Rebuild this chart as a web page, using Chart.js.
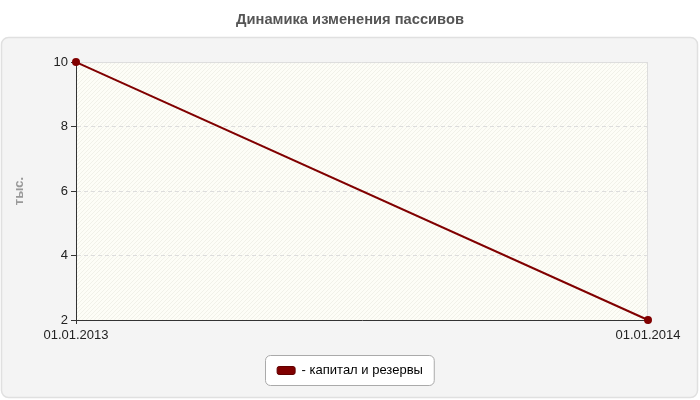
<!DOCTYPE html>
<html>
<head>
<meta charset="utf-8">
<script src="https://cdn.jsdelivr.net/npm/chart.js@4"></script>
<style>
  html, body { margin: 0; padding: 0; background: #fff; }
  #wrap { width: 700px; height: 400px; }
</style>
</head>
<body>
<div id="wrap"><canvas id="chart" width="700" height="400"></canvas></div>
<script>
// Данные графика
const dates = ['01.01.2013', '01.01.2014'];
const capitalValues = [10, 2];
const seriesName = 'капитал и резервы';
const yTicks = [2, 4, 6, 8, 10];

const fontFamily = '"Liberation Sans", Arial, sans-serif';

// Фон: панель, заштрихованная область графика, рамка легенды
const backgroundPlugin = {
  id: 'background',
  beforeDraw(chart) {
    const ctx = chart.ctx;
    const a = chart.chartArea;
    ctx.save();
    // панель
    ctx.beginPath();
    ctx.roundRect(1.5, 37.5, 696, 360, 7);
    ctx.fillStyle = '#f4f4f4';
    ctx.fill();
    ctx.strokeStyle = '#e0e0e0';
    ctx.lineWidth = 1.5;
    ctx.stroke();
    // область графика
    ctx.fillStyle = '#fdfdf7';
    ctx.fillRect(a.left, a.top, a.right - a.left, a.bottom - a.top);
    ctx.beginPath();
    ctx.rect(a.left, a.top, a.right - a.left, a.bottom - a.top);
    ctx.clip();
    ctx.strokeStyle = '#f1f1e9';
    ctx.lineWidth = 1;
    const h = a.bottom - a.top;
    for (let x = a.left - h; x < a.right; x += 4) {
      ctx.beginPath();
      ctx.moveTo(x, a.bottom);
      ctx.lineTo(x + h, a.top);
      ctx.stroke();
    }
    ctx.restore();

    // рамка легенды
    const boxes = chart.legend && chart.legend.legendHitBoxes;
    if (boxes && boxes.length) {
      const b = boxes[0];
      const cy = Math.round(b.top + b.height / 2);
      ctx.save();
      ctx.beginPath();
      ctx.roundRect(Math.round(b.left) - 11.5, cy - 15.5, b.width + 23, 30, 5);
      ctx.fillStyle = '#ffffff';
      ctx.fill();
      ctx.strokeStyle = '#aaaaaa';
      ctx.lineWidth = 1;
      ctx.stroke();
      ctx.restore();
    }
  },
  beforeDatasetsDraw(chart) {
    const ctx = chart.ctx;
    const a = chart.chartArea;
    ctx.save();
    ctx.strokeStyle = '#dddddd';
    ctx.lineWidth = 1;
    ctx.beginPath();
    ctx.moveTo(a.left, a.top + 0.5);
    ctx.lineTo(a.right - 0.5, a.top + 0.5);
    ctx.lineTo(a.right - 0.5, a.bottom);
    ctx.stroke();
    ctx.restore();
  }
};

new Chart(document.getElementById('chart'), {
  type: 'line',
  data: {
    labels: dates,
    datasets: [{
      label: seriesName,
      data: capitalValues,
      borderColor: '#800000',
      backgroundColor: '#800000',
      borderWidth: 2,
      pointRadius: 3,
      pointBackgroundColor: '#800000',
      pointBorderColor: '#800000',
      tension: 0,
      clip: false
    }]
  },
  options: {
    responsive: false,
    animation: false,
    devicePixelRatio: 1,
    layout: { padding: { left: 0, right: 0, top: 0, bottom: 13 } },
    plugins: {
      title: {
        display: true,
        text: 'Динамика изменения пассивов',
        color: '#555555',
        font: { family: fontFamily, size: 14.7, weight: 'bold' },
        padding: { top: 11.2, bottom: 33.2 }
      },
      legend: {
        position: 'bottom',
        labels: {
          color: '#333333',
          font: { family: fontFamily, size: 13 },
          boxWidth: 18,
          boxHeight: 8,
          useBorderRadius: true,
          borderRadius: 2,
          padding: 8,
          generateLabels(chart) {
            return chart.data.datasets.map((ds, i) => ({
              text: '- ' + ds.label,
              fillStyle: ds.backgroundColor,
              strokeStyle: '#600000',
              lineWidth: 1,
              borderRadius: 2,
              datasetIndex: i
            }));
          }
        }
      },
      tooltip: { enabled: false }
    },
    scales: {
      x: {
        offset: false,
        grid: {
          drawOnChartArea: false,
          drawTicks: true,
          tickLength: 4,
          tickColor: '#333333'
        },
        border: { display: true, color: '#333333', width: 1 },
        ticks: {
          color: '#222222',
          font: { family: fontFamily, size: 13 },
          padding: 4,
          maxRotation: 0,
          autoSkip: false
        },
        afterFit(scale) { scale.height = 36; }
      },
      y: {
        min: 2,
        max: 10,
        afterBuildTicks(scale) { scale.ticks = yTicks.map(v => ({ value: v })); },
        title: {
          display: true,
          text: 'тыс.',
          color: '#999999',
          font: { family: fontFamily, size: 13, weight: 'bold' },
          padding: { top: 12, bottom: 0 }
        },
        grid: {
          color: '#dddddd',
          tickBorderDash: [],
          tickColor: '#333333',
          tickLength: 5
        },
        border: { display: true, color: '#333333', width: 1, dash: [4, 3] },
        ticks: {
          color: '#222222',
          font: { family: fontFamily, size: 13 },
          padding: 3
        },
        afterFit(scale) { scale.width = 76; }
      },
      // пустая правая ось – отступ справа от области графика
      yRight: {
        position: 'right',
        display: true,
        grid: { display: false },
        border: { display: false },
        ticks: { display: false },
        afterFit(scale) { scale.width = 52; }
      }
    }
  },
  plugins: [backgroundPlugin]
});
</script>
</body>
</html>
